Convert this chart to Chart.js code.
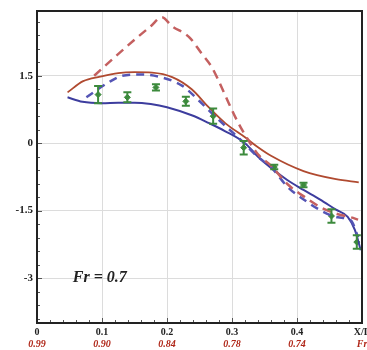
<!DOCTYPE html>
<html><head><meta charset="utf-8">
<script src="https://cdn.jsdelivr.net/npm/chart.js@4.4.1/dist/chart.umd.min.js"></script>
<style>html,body{margin:0;padding:0;background:#fff;}canvas{display:block;}</style>
</head><body><canvas id="c" width="367" height="350"></canvas>
<script>
// ---- tick labels ----
const xTicks = [0, 0.1, 0.2, 0.3, 0.4, 0.5];
const xTickLabels = ['0', '0.1', '0.2', '0.3', '0.4', 'X/L'];
const frTickLabels = ['0.99', '0.90', '0.84', '0.78', '0.74', 'Fr'];
const yTicks = [-3, -1.5, 0, 1.5];
const yTickLabels = ['-3', '-1.5', '0', '1.5'];

// ---- series ----
const redSolidX = [0.047, 0.071, 0.097, 0.125, 0.15, 0.177, 0.208, 0.238, 0.264, 0.29, 0.32, 0.34, 0.36, 0.41, 0.46, 0.495];
const redSolidY = [1.13, 1.38, 1.48, 1.56, 1.58, 1.57, 1.47, 1.2, 0.8, 0.44, 0.13, -0.09, -0.28, -0.62, -0.8, -0.87];

const blueSolidX = [0.047, 0.07, 0.1, 0.125, 0.15, 0.175, 0.2, 0.238, 0.264, 0.289, 0.32, 0.34, 0.36, 0.385, 0.41, 0.435, 0.46, 0.478, 0.489, 0.498];
const blueSolidY = [1.02, 0.92, 0.89, 0.9, 0.9, 0.87, 0.8, 0.62, 0.45, 0.27, 0.0, -0.3, -0.55, -0.82, -1.04, -1.25, -1.48, -1.64, -1.93, -2.38];

const blueDashX = [0.076, 0.111, 0.131, 0.16, 0.19, 0.223, 0.249, 0.27, 0.29, 0.31, 0.34, 0.36, 0.386, 0.412, 0.437, 0.463, 0.483, 0.494];
const blueDashY = [1.02, 1.36, 1.5, 1.53, 1.47, 1.28, 0.95, 0.65, 0.38, 0.12, -0.31, -0.53, -0.98, -1.27, -1.5, -1.65, -1.72, -2.09];

const redDashX = [0.088, 0.12, 0.15, 0.175, 0.192, 0.208, 0.234, 0.253, 0.269, 0.279, 0.295, 0.31, 0.325, 0.34, 0.36, 0.386, 0.412, 0.437, 0.463, 0.483, 0.494];
const redDashY = [1.5, 1.92, 2.3, 2.6, 2.8, 2.6, 2.36, 2.0, 1.69, 1.4, 0.89, 0.44, 0.07, -0.25, -0.5, -0.92, -1.2, -1.43, -1.58, -1.65, -1.7];

const expX = [0.094, 0.139, 0.183, 0.229, 0.271, 0.318, 0.365, 0.41, 0.453, 0.492];
const expY = [1.08, 1.02, 1.24, 0.93, 0.6, -0.1, -0.53, -0.93, -1.62, -2.2];
const expErr = [0.19, 0.11, 0.07, 0.1, 0.17, 0.15, 0.05, 0.05, 0.15, 0.15];

const annotationText = 'Fr = 0.7';

const pts = (xs, ys) => xs.map((x, i) => ({x: x, y: ys[i]}));
const serif = '"Liberation Serif", "DejaVu Serif", serif';

const extras = {
  id: 'extras',
  beforeDatasetsDraw(chart) {
    const {ctx, chartArea: a, scales: {x, y}} = chart;
    ctx.save();
    ctx.strokeStyle = '#555';
    ctx.lineWidth = 1;
    for (let k = -13; k <= 9; k++) {
      const py = Math.round(y.getPixelForValue(k * 0.3)) + 0.5;
      if (py < a.top || py > a.bottom) continue;
      ctx.beginPath(); ctx.moveTo(a.left, py); ctx.lineTo(a.left + (k % 5 === 0 ? 5 : 3), py); ctx.stroke();
    }
    for (let k = 1; k < 25; k++) {
      const px = Math.round(x.getPixelForValue(k * 0.02)) + 0.5;
      ctx.beginPath(); ctx.moveTo(px, a.bottom); ctx.lineTo(px, a.bottom - (k % 5 === 0 ? 5 : 3)); ctx.stroke();
    }
    ctx.restore();
  },
  afterDatasetsDraw(chart) {
    const {ctx, chartArea: a, scales: {x, y}} = chart;
    ctx.save();
    ctx.strokeStyle = '#3c8a3c';
    ctx.lineWidth = 2;
    expX.forEach((xv, i) => {
      const px = x.getPixelForValue(xv);
      const t = y.getPixelForValue(expY[i] + expErr[i]);
      const b = y.getPixelForValue(expY[i] - expErr[i]);
      ctx.beginPath();
      ctx.moveTo(px, t); ctx.lineTo(px, b);
      ctx.moveTo(px - 4, t); ctx.lineTo(px + 4, t);
      ctx.moveTo(px - 4, b); ctx.lineTo(px + 4, b);
      ctx.stroke();
    });
    ctx.fillStyle = '#222';
    ctx.font = 'italic bold 16px ' + serif;
    ctx.textBaseline = 'middle';
    ctx.textAlign = 'left';
    ctx.fillText(annotationText, x.getPixelForValue(0.055), y.getPixelForValue(-3));
    ctx.strokeStyle = '#222';
    ctx.lineWidth = 2;
    ctx.strokeRect(a.left, a.top, a.right - a.left, a.bottom - a.top);
    ctx.restore();
  }
};

const lineDs = (label, data, color, dash, width) => ({
  label, data, borderColor: color, borderWidth: width, borderDash: dash,
  pointRadius: 0, showLine: true, cubicInterpolationMode: 'monotone', fill: false
});

new Chart(document.getElementById('c'), {
  type: 'scatter',
  data: {
    datasets: [
      lineDs('red dashed', pts(redDashX, redDashY), '#c46060', [9, 6], 2.5),
      lineDs('blue dashed', pts(blueDashX, blueDashY), '#5555b5', [8, 6], 2.5),
      lineDs('red solid', pts(redSolidX, redSolidY), '#b04a30', [], 1.8),
      lineDs('blue solid', pts(blueSolidX, blueSolidY), '#3d3d9e', [], 2),
      {label: 'experiment', data: pts(expX, expY), showLine: false, pointStyle: 'rectRot',
       pointRadius: 3, backgroundColor: '#3c8a3c', borderColor: '#3c8a3c', borderWidth: 1}
    ]
  },
  options: {
    responsive: false, animation: false, devicePixelRatio: 1,
    layout: {padding: {top: 11, right: 2, left: 0, bottom: 0}},
    plugins: {legend: {display: false}, tooltip: {enabled: false}},
    scales: {
      x: {
        type: 'linear', position: 'bottom', min: 0, max: 0.5, weight: 0,
        afterBuildTicks: s => { s.ticks = xTicks.map(v => ({value: v})); },
        afterFit: s => { s.height = 13; s.paddingLeft = 0; s.paddingRight = 0; },
        grid: {color: '#dcdcdc', drawTicks: false},
        border: {display: false},
        ticks: {autoSkip: false, maxRotation: 0, padding: 3, color: '#222',
          font: {family: serif, size: 10, weight: 'bold'},
          callback: (v, i) => xTickLabels[i]}
      },
      x2: {
        type: 'linear', position: 'bottom', min: 0, max: 0.5, weight: 1,
        afterBuildTicks: s => { s.ticks = xTicks.map(v => ({value: v})); },
        afterFit: s => { s.height = 14; s.paddingLeft = 0; s.paddingRight = 0; },
        grid: {display: false, drawTicks: false},
        border: {display: false},
        ticks: {autoSkip: false, maxRotation: 0, padding: 2, color: '#b0281a',
          font: {family: serif, size: 10, weight: 'bold', style: 'italic'},
          callback: (v, i) => frTickLabels[i]}
      },
      y: {
        type: 'linear', min: -4, max: 2.94,
        afterBuildTicks: s => { s.ticks = yTicks.map(v => ({value: v})); },
        afterFit: s => { s.width = 37; s.paddingTop = 0; s.paddingBottom = 0; },
        grid: {color: '#dcdcdc', drawTicks: false},
        border: {display: false},
        ticks: {padding: 4, color: '#222', font: {family: serif, size: 11, weight: 'bold'},
          callback: (v, i) => yTickLabels[i]}
      }
    }
  },
  plugins: [extras]
});
</script></body></html>
